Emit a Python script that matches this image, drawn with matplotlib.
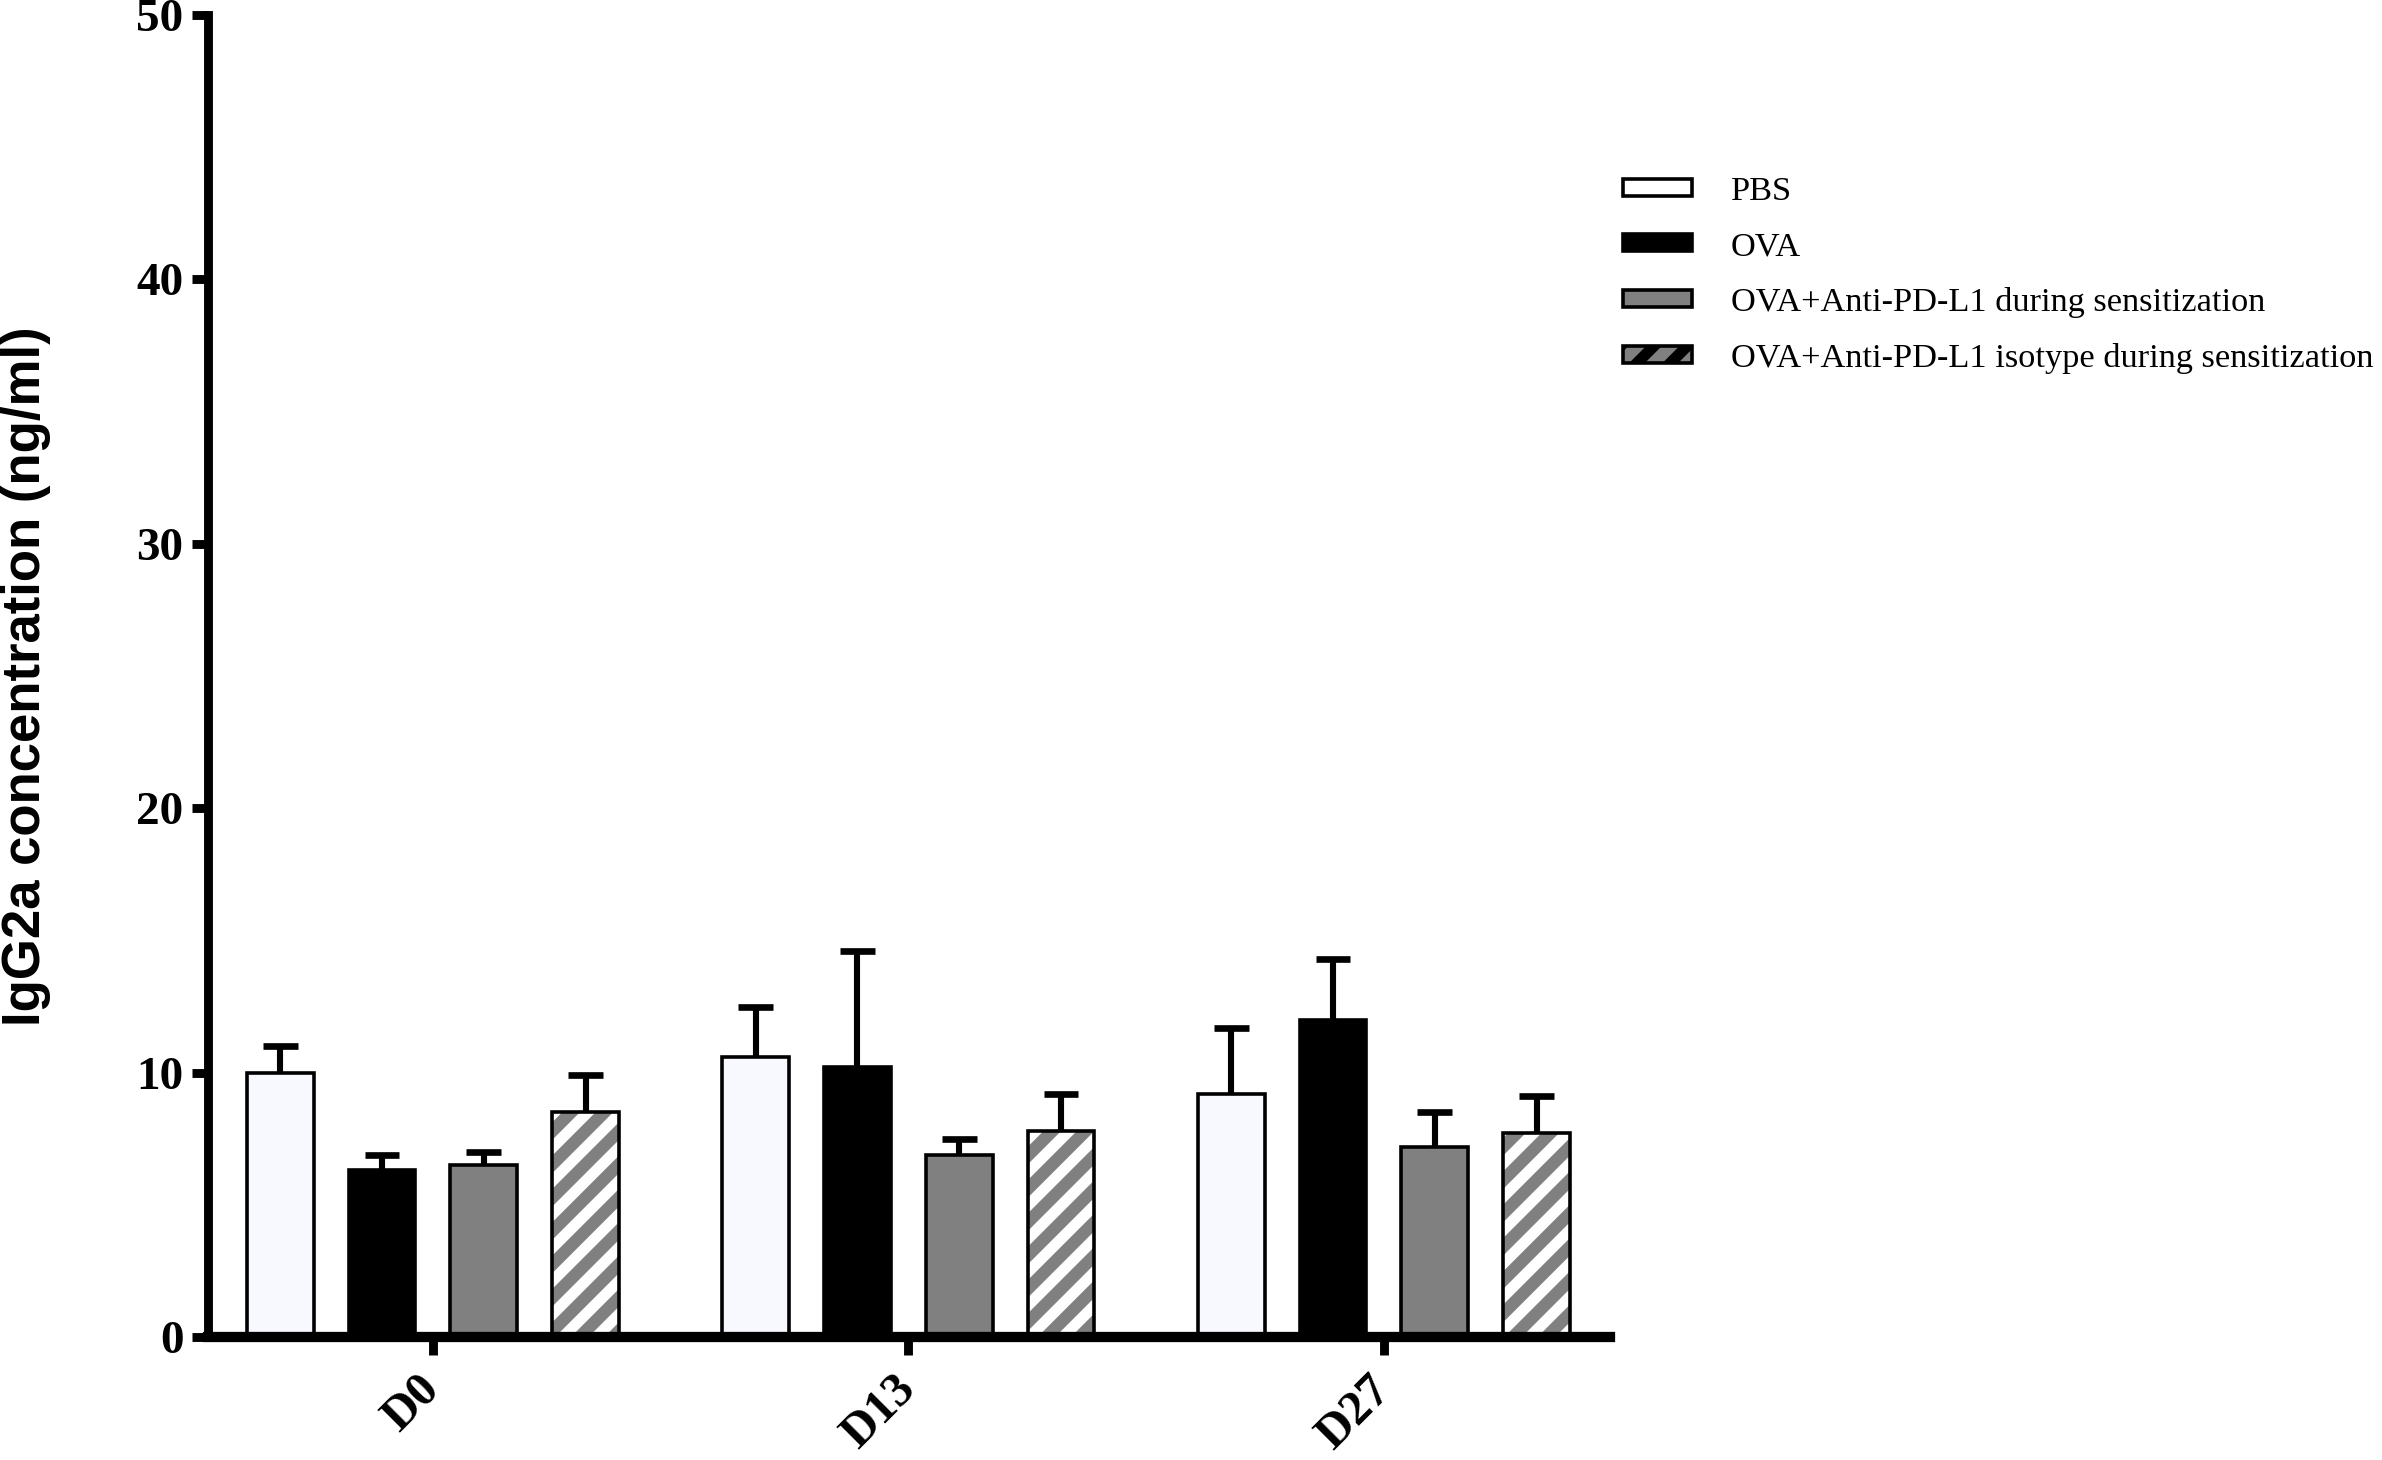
import numpy as np
import matplotlib.pyplot as plt
import matplotlib.transforms as mtransforms
from matplotlib.patches import Patch

days = ["D0", "D13", "D27"]
groups = ["PBS", "OVA", "OVA+Anti-PD-L1 during sensitization",
          "OVA+Anti-PD-L1 isotype during sensitization"]

pbs_mean = [10.0, 10.6, 9.2]
pbs_sd = [1.0, 1.9, 2.5]
ova_mean = [6.3, 10.2, 12.0]
ova_sd = [0.6, 4.4, 2.3]
anti_mean = [6.5, 6.9, 7.2]
anti_sd = [0.5, 0.6, 1.3]
iso_mean = [8.5, 7.8, 7.7]
iso_sd = [1.4, 1.4, 1.4]

means = [pbs_mean, ova_mean, anti_mean, iso_mean]
sds = [pbs_sd, ova_sd, anti_sd, iso_sd]
faces = ["#f8f8ff", "black", "#808080", "#808080"]
hatches = [None, None, None, "//"]

plt.rcParams['hatch.linewidth'] = 4.0

fig = plt.figure(figsize=(11.91, 7.3), dpi=200)
ax = fig.add_axes([0.0873, 0.0842, 0.676 - 0.0873, 0.9897 - 0.0842])

x = np.arange(len(days))
w = 0.14
step = 0.214
for i in range(4):
    xi = x + (i - 1.5) * step
    m = np.array(means[i])
    s = np.array(sds[i])
    if hatches[i]:
        ax.bar(xi, m, w, color=faces[i], edgecolor="white", hatch=hatches[i],
               linewidth=0, zorder=2)
        ax.bar(xi, m, w, fill=False, edgecolor="black", linewidth=1.3, zorder=3)
    else:
        ax.bar(xi, m, w, color=faces[i], edgecolor="black", linewidth=1.3, zorder=2)
    ax.vlines(xi, m, m + s, color="black", linewidth=2.2, zorder=1)
    ax.hlines(m + s, xi - w * 0.26, xi + w * 0.26, color="black", linewidth=2.4, zorder=1)

ax.set_xlim(-0.473, 2.476)
ax.set_ylim(0, 50)
ax.set_yticks(np.arange(0, 51, 10))
ax.set_xticks(x)
ax.set_xticklabels(days, rotation=45, ha="right", va="center", rotation_mode="anchor",
                   family="Liberation Serif", fontweight="bold", fontsize=17.5)
shift = mtransforms.ScaledTranslation(0.07, 0, fig.dpi_scale_trans)
for lab in ax.get_xticklabels():
    lab.set_transform(lab.get_transform() + shift)
for lab in ax.get_yticklabels():
    lab.set_family("Liberation Serif")
    lab.set_fontweight("bold")
    lab.set_fontsize(17)

ax.spines["top"].set_visible(False)
ax.spines["right"].set_visible(False)
ax.spines["left"].set_linewidth(3.2)
ax.spines["bottom"].set_linewidth(3.7)
ax.tick_params(axis="y", length=5.8, width=3.2, pad=3)
ax.tick_params(axis="x", length=6.5, width=3.2, pad=10)

ax.set_ylabel("IgG2a concentration (ng/ml)", family="Liberation Sans",
              fontweight="bold", fontsize=19)
ax.yaxis.set_label_coords(-0.112, 0.5)

handles = [
    Patch(facecolor="white", edgecolor="black", linewidth=1.3),
    Patch(facecolor="black", edgecolor="black", linewidth=1.3),
    Patch(facecolor="#808080", edgecolor="black", linewidth=1.3),
    Patch(facecolor="#808080", edgecolor="black", linewidth=1.3, hatch="//"),
]
leg = fig.legend(handles, groups, loc="upper left", bbox_to_anchor=(0.6684, 0.9005),
                 frameon=False, prop={"family": "Liberation Serif", "size": 12.4},
                 handlelength=2.0, handleheight=0.4, labelspacing=0.72,
                 handletextpad=1.12)

fig.savefig("out.png", dpi=200)
